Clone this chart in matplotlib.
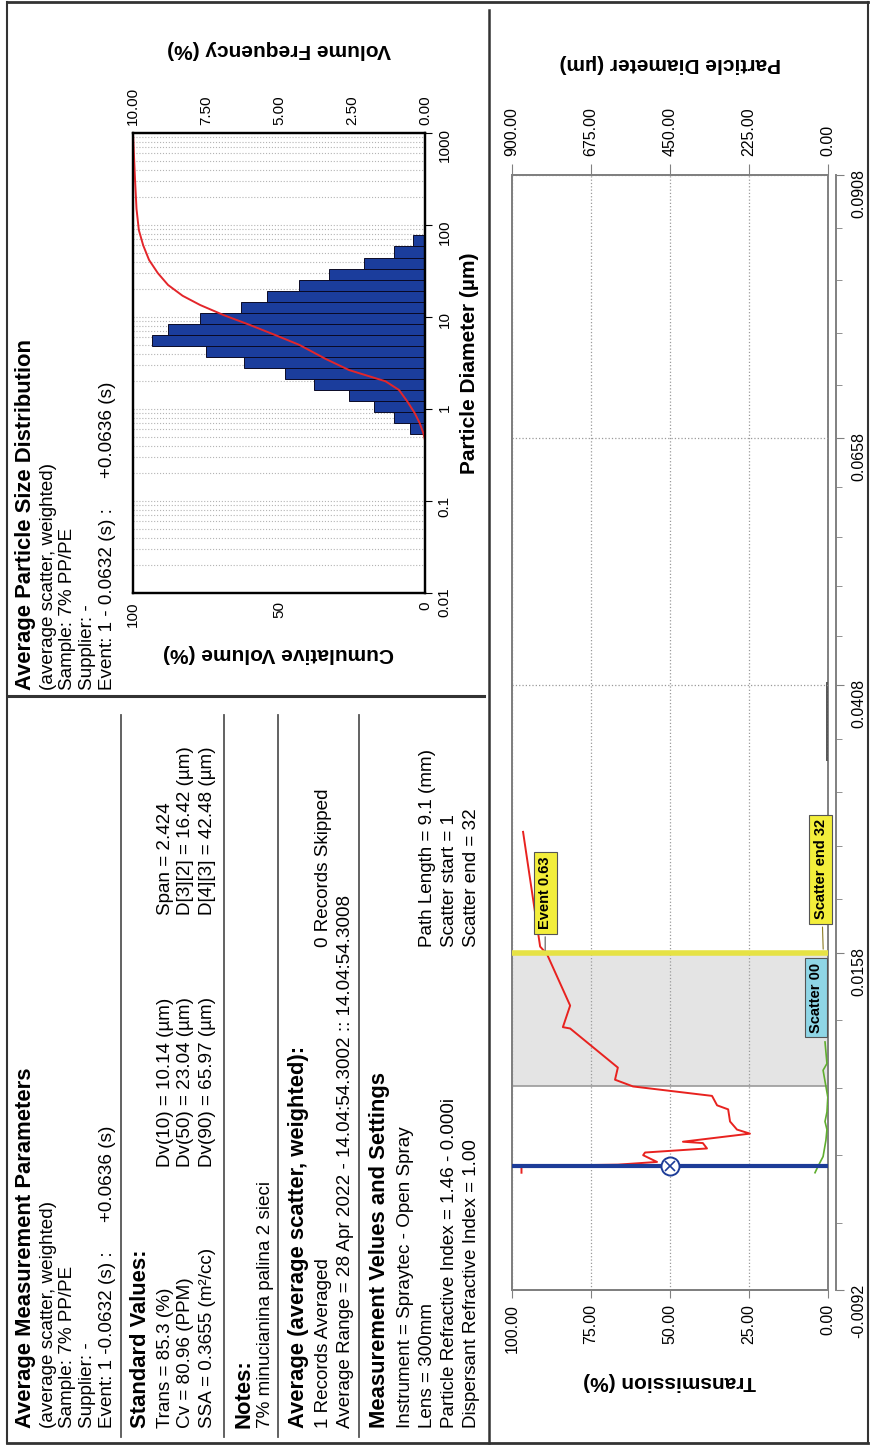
import numpy as np
import matplotlib
matplotlib.use('Agg')
import matplotlib.pyplot as plt
from matplotlib.lines import Line2D
from matplotlib.ticker import FixedLocator, FuncFormatter, NullFormatter

plt.rcParams['font.family'] = ['Liberation Sans', 'DejaVu Sans']

W, H = 871, 1446

# ---------------- data ----------------
# Particle size distribution (histogram: bin edges in um, volume frequency in %)
psd_bin_edges = [0.535, 0.705, 0.929, 1.225, 1.614, 2.127, 2.80, 3.69, 4.87, 6.42,
                 8.46, 11.15, 14.7, 19.4, 25.5, 33.6, 44.3, 58.4, 77.0]
psd_vol_freq = [0.5, 1.05, 1.75, 2.6, 3.8, 4.8, 6.2, 7.5, 9.35, 8.8, 7.7, 6.3, 5.4,
                4.3, 3.3, 2.1, 1.05, 0.4]
# cumulative volume curve
cum_diam = [0.46, 0.55, 0.7, 0.9, 1.2, 1.61, 2.0, 2.65, 3.5, 4.97, 6.5, 8.2, 10.5,
            13.5, 17.0, 22.3, 30.0, 41.7, 60.0, 88.0, 150.0, 309.0, 600.0, 1000.0]
cum_volume = [0, 0.6, 1.8, 3.5, 6.0, 8.9, 13.5, 26, 34, 43, 52, 60, 69,
              77, 83, 88, 91.5, 94.5, 96.5, 98, 98.8, 99.3, 99.7, 100]

diam_ticks = [0.01, 0.1, 1, 10, 100, 1000]
diam_tick_labels = ['0.01', '0.1', '1', '10', '100', '1000']
cum_ticks = [0, 50, 100]
freq_ticks = [0, 2.5, 5, 7.5, 10]

# Transmission history
time_ticks = [-0.0092, 0.0158, 0.0408, 0.0658, 0.0908]
time_minor = [-0.0042, 0.0008, 0.0058, 0.0108, 0.0208, 0.0258, 0.0308, 0.0358,
              0.0458, 0.0508, 0.0558, 0.0608, 0.0708, 0.0758, 0.0808, 0.0858]
trans_ticks = [0, 25, 50, 75, 100]
pdiam_ticks = [0, 225, 450, 675, 900]

trans_time = [-0.0005, 0.0000, np.nan, 0.0000, 0.0001, 0.0003, 0.0008, 0.0010,
              0.0013, 0.0017, 0.0018, 0.0024, 0.0027, 0.0033, 0.0042, 0.0045,
              0.0052, 0.0059, 0.0064, 0.0073, 0.0102, 0.0103, 0.0119, 0.0157,
              0.0164, 0.0271]
trans_values = [97, 97, np.nan, 97, 66.5, 54.1, 58.5, 57.9, 38.3, 39.6, 45.9,
                24.7, 28.8, 31.0, 31.6, 35.1, 36.7, 61.7, 67.4, 66.5, 81.6, 83.9,
                81.6, 88.9, 91.1, 96.5]

scatter_time = [-0.0005, 0.0000, 0.0007, 0.0019, 0.0027, 0.0033, 0.0040, 0.0051,
                0.0071, 0.0076, 0.0092]
scatter_diam = [37, 28, 14, 6, 3, 8.5, 3, 0.5, 14, 3, 8.5]

late_time = [0.0338, 0.0410]
late_diam = [3, 3]

event_start = 0.0000      # blue trigger line
scatter_start = 0.0059    # start of shaded averaging range
event_end = 0.0158        # yellow line
marker_trans = 50.0

# ---------------- figure ----------------
fig = plt.figure(figsize=(W / 100, H / 100), dpi=100)
fig.patch.set_facecolor('white')


def fx(px):
    return px / W


def fy(py):
    return 1 - py / H


def fline(x0, y0, x1, y1, color='#333333', lw=1.5):
    fig.add_artist(Line2D([fx(x0), fx(x1)], [fy(y0), fy(y1)], color=color, lw=lw,
                          transform=fig.transFigure))


def vtext(xp, yp, s, size=13.6, weight='normal'):
    fig.text(fx(xp), fy(yp), s, rotation=90, rotation_mode='anchor', ha='left',
             va='center', fontsize=size, fontweight=weight, color='black')


# frame and dividers
fline(7, 2, 868, 2, lw=2.0)
fline(7, 1443, 868, 1443, lw=2.0)
fline(7, 2, 7, 1443, lw=1.5)
fline(868, 2, 868, 1443, lw=1.5)
fline(489, 10, 489, 1443, lw=1.8)
fline(9, 696, 484, 696, lw=2.2)
for sx in [121, 224, 278, 359]:
    fline(sx, 715, sx, 1437, color='#555555', lw=1.3)

# ---------- left text panel ----------
B = 15.8
R = 13.6
vtext(26, 1428, 'Average Measurement Parameters', B, 'bold')
vtext(48, 1428, '(average scatter, weighted)', R)
vtext(67, 1428, 'Sample: 7% PP/PE', R)
vtext(87, 1428, 'Supplier: -', R)
vtext(107, 1428, 'Event: 1 -0.0632 (s) :', R)
vtext(107, 1222, '+0.0636 (s)', R)

vtext(140, 1428, 'Standard Values:', B, 'bold')
vtext(165, 1428, 'Trans = 85.3 (%)', R)
vtext(186, 1428, 'Cv = 80.96 (PPM)', R)
vtext(207, 1428, 'SSA = 0.3655 (m\u00b2/cc)', R)
vtext(165, 1167, 'Dv(10) = 10.14 (\u00b5m)', R)
vtext(186, 1167, 'Dv(50) = 23.04 (\u00b5m)', R)
vtext(207, 1167, 'Dv(90) = 65.97 (\u00b5m)', R)
vtext(165, 915, 'Span = 2.424', R)
vtext(186, 915, 'D[3][2] = 16.42 (\u00b5m)', R)
vtext(207, 915, 'D[4][3] = 42.48 (\u00b5m)', R)

vtext(244, 1428, 'Notes:', B, 'bold')
vtext(265, 1428, '7% minucianina palina 2 sieci', R)

vtext(298, 1428, 'Average (average scatter, weighted):', B, 'bold')
vtext(323, 1428, '1 Records Averaged', R)
vtext(323, 947, '0 Records Skipped', R)
vtext(345, 1428, 'Average Range = 28 Apr 2022 - 14.04:54.3002 :: 14.04:54.3008', R)

vtext(379, 1428, 'Measurement Velues and Settings', B, 'bold')
vtext(405, 1428, 'Instrument = Spraytec - Open Spray', R)
vtext(427, 1428, 'Lens = 300mm', R)
vtext(449, 1428, 'Particle Refractive Index = 1.46 - 0.000i', R)
vtext(471, 1428, 'Dispersant Refractive Index = 1.00', R)
vtext(427, 947, 'Path Length = 9.1 (mm)', R)
vtext(449, 947, 'Scatter start = 1', R)
vtext(471, 947, 'Scatter end = 32', R)

# ---------- PSD panel text ----------
vtext(26, 690, 'Average Particle Size Distribution', B, 'bold')
vtext(48, 690, '(average scatter, weighted)', R)
vtext(67, 690, 'Sample: 7% PP/PE', R)
vtext(87, 690, 'Supplier: -', R)
vtext(107, 690, 'Event: 1 - 0.0632 (s) :', R)
vtext(107, 478, '+0.0636 (s)', R)

# ---------- PSD chart ----------
edges = np.array(psd_bin_edges)
axf = fig.add_axes([fx(133), fy(593), (425 - 133) / W, (593 - 133) / H])
axf.set_yscale('log')
axf.set_ylim(0.01, 1000)
axf.set_xlim(10, 0)
axf.barh(edges[:-1], psd_vol_freq, height=np.diff(edges), align='edge',
         color='#1b3d9c', edgecolor='#0a0a25', linewidth=0.7, zorder=2)
axf.grid(axis='y', which='both', linestyle=':', color='#b4b4b4', linewidth=0.8, zorder=0)
axf.set_axisbelow(True)

axc = axf.twiny()
axc.set_xlim(100, 0)
axc.plot(cum_volume, cum_diam, color='#e3262b', lw=1.4)

axf.xaxis.tick_top()
axf.xaxis.set_label_position('top')
axc.xaxis.tick_bottom()
axc.xaxis.set_label_position('bottom')

axf.set_xticks(freq_ticks)
axf.xaxis.set_major_formatter(FuncFormatter(lambda v, p: '%.2f' % v))
axc.set_xticks(cum_ticks)
axc.xaxis.set_major_formatter(FuncFormatter(lambda v, p: '%d' % v))

axf.yaxis.tick_right()
axf.yaxis.set_label_position('right')
axf.yaxis.set_major_locator(FixedLocator(diam_ticks))
axf.set_yticklabels(diam_tick_labels)
axf.yaxis.set_minor_formatter(NullFormatter())

axf.tick_params(axis='x', labelrotation=90, labelsize=11, length=0, pad=6)
axc.tick_params(axis='x', labelrotation=90, labelsize=11, length=0, pad=6)
axf.tick_params(axis='y', which='major', labelrotation=90, labelsize=11, length=5,
                direction='out', pad=4)
axf.tick_params(axis='y', which='minor', length=0)

axf.set_xlabel('Volume Frequency (%)', rotation=180, fontsize=15, fontweight='bold',
               labelpad=23)
axc.set_xlabel('Cumulative Volume (%)', rotation=180, fontsize=15, fontweight='bold',
               labelpad=12)
axf.set_ylabel('Particle Diameter (\u00b5m)', rotation=90, fontsize=15,
               fontweight='bold', labelpad=6)
for a in (axf, axc):
    for s in a.spines.values():
        s.set_color('black')
        s.set_linewidth(1.6)

# ---------- Transmission chart ----------
t_knots = np.array(time_ticks)
p_knots = np.array([0.0, 337.0, 605.0, 852.0, 1115.0])
s_lo = (p_knots[1] - p_knots[0]) / (t_knots[1] - t_knots[0])
s_hi = (p_knots[-1] - p_knots[-2]) / (t_knots[-1] - t_knots[-2])


def t_fwd(v):
    v = np.asarray(v, dtype=float)
    out = np.interp(v, t_knots, p_knots)
    out = np.where(v < t_knots[0], p_knots[0] + (v - t_knots[0]) * s_lo, out)
    out = np.where(v > t_knots[-1], p_knots[-1] + (v - t_knots[-1]) * s_hi, out)
    return out


def t_inv(p):
    p = np.asarray(p, dtype=float)
    out = np.interp(p, p_knots, t_knots)
    out = np.where(p < p_knots[0], t_knots[0] + (p - p_knots[0]) / s_lo, out)
    out = np.where(p > p_knots[-1], t_knots[-1] + (p - p_knots[-1]) / s_hi, out)
    return out


axt = fig.add_axes([fx(512), fy(1290), (828 - 512) / W, (1290 - 175) / H])
axt.set_yscale('function', functions=(t_fwd, t_inv))
axt.set_ylim(time_ticks[0], time_ticks[-1])
axt.set_xlim(100, 0)

axd = axt.twiny()
axd.set_xlim(900, 0)

axt.set_zorder(2)
axd.set_zorder(1)
axt.patch.set_visible(False)

# shaded averaging range and scatter trace on the lower twin
axd.axhspan(scatter_start, event_end, color='#e4e4e4', zorder=0, lw=0)
axd.axhline(scatter_start, color='#9a9a9a', lw=1.2, zorder=1)
axd.plot(scatter_diam, scatter_time, color='#5fae2e', lw=1.2, zorder=3)
axd.plot(late_diam, late_time, color='#555555', lw=1.4, zorder=3)

# grid
axt.grid(axis='x', linestyle=':', color='#9a9a9a', lw=0.9)
axt.grid(axis='y', linestyle=':', color='#9a9a9a', lw=0.9)

axt.plot(trans_values, trans_time, color='#e8221f', lw=1.4, zorder=4)
axt.axhline(event_end, color='#e6e245', lw=4.0, zorder=5)
axt.axhline(event_start, color='#1d3c98', lw=3.0, zorder=5)
axt.plot([marker_trans], [event_start], marker='o', ms=13, mfc='white', mec='#1d3c98',
         mew=1.4, zorder=6)
axt.plot([marker_trans], [event_start], marker='x', ms=6.5, mec='#1d3c98', mew=1.2,
         zorder=7)

lab_kw = dict(rotation=90, ha='center', va='center', fontsize=10.5, fontweight='bold',
              zorder=8)
axt.annotate('Event 0.63', xy=(89.5, event_end), xytext=(89.5, 0.0214),
             bbox=dict(boxstyle='square,pad=0.3', fc='#f3ee3b', ec='#555555', lw=0.8),
             arrowprops=dict(arrowstyle='-', color='#555555', lw=0.8), **lab_kw)
axt.annotate('Scatter end 32', xy=(1.5, 0.0159), xytext=(2.3, 0.0236),
             bbox=dict(boxstyle='square,pad=0.3', fc='#f3ee3b', ec='#555555', lw=0.8),
             arrowprops=dict(arrowstyle='-', color='#8a7a20', lw=0.8), **lab_kw)
axt.annotate('Scatter 00', xy=(3.8, 0.0125), xytext=(3.8, 0.0125),
             bbox=dict(boxstyle='square,pad=0.3', fc='#8fd6e6', ec='#555555', lw=0.8),
             **lab_kw)

# axes / ticks
axt.set_xticks(trans_ticks)
axt.xaxis.set_major_formatter(FuncFormatter(lambda v, p: '%.2f' % v))
axd.set_xticks(pdiam_ticks)
axd.xaxis.set_major_formatter(FuncFormatter(lambda v, p: '%.2f' % v))
axt.yaxis.set_major_locator(FixedLocator(time_ticks))
axt.yaxis.set_minor_locator(FixedLocator(time_minor))
axt.yaxis.set_major_formatter(FuncFormatter(lambda v, p: '%.4f' % v))
axt.yaxis.set_minor_formatter(NullFormatter())
axt.yaxis.tick_right()
axt.spines['right'].set_position(('outward', 6))

axt.tick_params(axis='x', labelrotation=90, labelsize=11.5, length=6, color='#808080',
                pad=4)
axd.tick_params(axis='x', labelrotation=90, labelsize=11.5, length=8, color='#808080',
                pad=6)
axt.tick_params(axis='y', which='major', labelrotation=90, labelsize=11.5, length=6,
                color='#808080', pad=5)
axt.tick_params(axis='y', which='minor', length=4, color='#808080')

axt.set_xlabel('Transmission (%)', rotation=180, fontsize=15, fontweight='bold',
               labelpad=14)
axd.set_xlabel('Particle Diameter (\u00b5m)', rotation=180, fontsize=15,
               fontweight='bold', labelpad=27)
for a in (axt, axd):
    for s in a.spines.values():
        s.set_color('#808080')
        s.set_linewidth(1.4)

fig.savefig('out.png', dpi=100, facecolor='white')
